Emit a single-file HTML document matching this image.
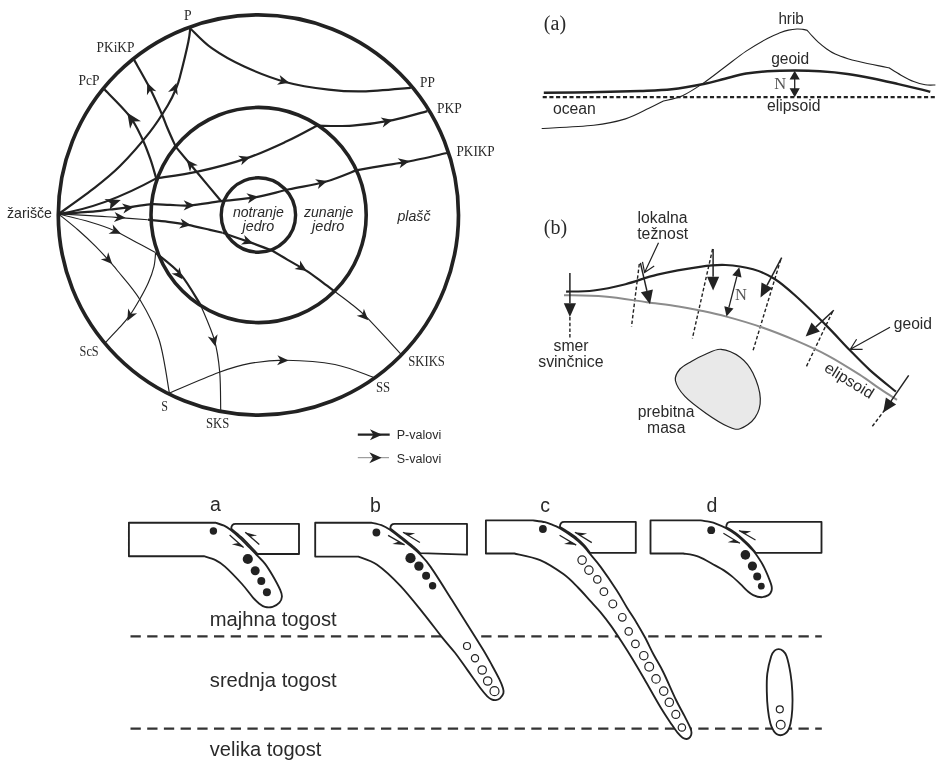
<!DOCTYPE html>
<html><head><meta charset="utf-8"><title>Diagram</title>
<style>html,body{margin:0;padding:0;background:#fff;}svg{display:block;filter:grayscale(1);}</style></head>
<body><svg width="942" height="784" viewBox="0 0 942 784">
<rect width="942" height="784" fill="#fff"/>
<circle cx="258.4" cy="215.0" r="200.1" fill="none" stroke="#222" stroke-width="3.7"/>
<circle cx="258.59999999999997" cy="215.0" r="107.6" fill="none" stroke="#222" stroke-width="3.6"/>
<circle cx="258.4" cy="215.0" r="37.2" fill="none" stroke="#222" stroke-width="3.4"/>
<path d="M58.60,214.00 C64.25,209.90 82.27,197.40 92.50,189.40 C102.73,181.40 110.45,175.55 120.00,166.00 C129.55,156.45 141.80,142.27 149.80,132.10 C157.80,121.93 163.58,112.35 168.00,105.00 C172.42,97.65 174.27,92.87 176.30,88.00 C178.33,83.13 178.20,83.47 180.20,75.80 C182.20,68.13 186.62,49.97 188.30,42.00 C189.98,34.03 189.97,30.33 190.30,28.00" fill="none" stroke="#222" stroke-width="2.2" />
<path d="M58.6,214.0 Q104.1,207.1 156.2,178.4" fill="none" stroke="#222" stroke-width="2.2" />
<path d="M156.20,178.40 C155.23,175.20 152.78,165.93 150.40,159.20 C148.02,152.47 145.43,145.25 141.90,138.00 C138.37,130.75 135.47,123.82 129.20,115.70 C122.93,107.58 108.45,93.70 104.30,89.30" fill="none" stroke="#222" stroke-width="2.2" />
<path d="M156.20,178.40 C163.27,177.23 183.67,174.70 198.60,171.40 C213.53,168.10 231.20,163.57 245.80,158.60 C260.40,153.63 274.35,147.08 286.20,141.60 C298.05,136.12 311.78,128.35 316.90,125.70" fill="none" stroke="#222" stroke-width="2.2" />
<path d="M316.90,125.70 C322.83,125.68 339.85,126.53 352.50,125.60 C365.15,124.67 380.32,122.52 392.80,120.10 C405.28,117.68 421.63,112.60 427.40,111.10" fill="none" stroke="#222" stroke-width="2.2" />
<path d="M58.60,214.00 C64.67,213.57 86.50,212.15 95.00,211.40 C103.50,210.65 104.30,210.13 109.60,209.50 C114.90,208.87 120.10,208.47 126.80,207.60 C133.50,206.73 142.60,204.75 149.80,204.30 C157.00,203.85 163.28,204.72 170.00,204.90 C176.72,205.08 181.57,206.02 190.10,205.40 C198.63,204.78 210.17,202.58 221.20,201.20 C232.23,199.82 244.97,199.08 256.30,197.10 C267.63,195.12 277.70,191.85 289.20,189.30 C300.70,186.75 314.15,184.95 325.30,181.80 C336.45,178.65 350.97,172.30 356.10,170.40" fill="none" stroke="#222" stroke-width="2.2" />
<path d="M356.10,170.40 C360.42,169.63 373.23,167.28 382.00,165.80 C390.77,164.32 397.88,163.63 408.70,161.50 C419.52,159.37 440.53,154.42 446.90,153.00" fill="none" stroke="#222" stroke-width="2.2" />
<path d="M221.20,201.20 C217.33,196.58 205.57,182.55 198.00,173.50 C190.43,164.45 179.50,151.33 175.80,146.90" fill="none" stroke="#222" stroke-width="2.2" />
<path d="M175.80,146.90 C174.43,143.83 169.93,133.98 167.60,128.50 C165.27,123.02 164.67,120.55 161.80,114.00 C158.93,107.45 155.02,98.22 150.40,89.20 C145.78,80.18 136.82,64.78 134.10,59.90" fill="none" stroke="#222" stroke-width="2.2" />
<path d="M190.60,28.70 C194.13,31.95 202.95,41.93 211.80,48.20 C220.65,54.47 231.30,60.63 243.70,66.30 C256.10,71.97 272.05,78.32 286.20,82.20 C300.35,86.08 315.78,88.07 328.60,89.60 C341.42,91.13 349.40,91.70 363.10,91.40 C376.80,91.10 402.85,88.40 410.80,87.80" fill="none" stroke="#222" stroke-width="2.2" />
<path d="M148.00,219.70 C151.33,220.05 161.33,220.93 168.00,221.80 C174.67,222.67 181.00,223.55 188.00,224.90 C195.00,226.25 204.23,228.58 210.00,229.90 C215.77,231.22 220.50,232.32 222.60,232.80" fill="none" stroke="#222" stroke-width="2.2" />
<path d="M222.60,232.80 C225.45,233.80 234.62,237.03 239.70,238.80 C244.78,240.57 247.65,241.42 253.10,243.40 C258.55,245.38 269.18,249.48 272.40,250.70" fill="none" stroke="#222" stroke-width="2.2" />
<path d="M272.40,250.70 C274.88,252.18 281.60,256.23 287.30,259.60 C293.00,262.97 300.67,267.07 306.60,270.90 C312.53,274.73 318.20,279.17 322.90,282.60 C327.60,286.03 332.82,290.02 334.80,291.50" fill="none" stroke="#222" stroke-width="2.2" />
<path d="M155.50,252.70 C159.68,256.32 173.08,265.68 180.60,274.40 C188.12,283.12 197.27,299.90 200.60,305.00" fill="none" stroke="#222" stroke-width="2.2" />
<path d="M58.60,214.00 C63.83,214.27 80.48,215.03 90.00,215.60 C99.52,216.17 106.07,216.72 115.70,217.40 C125.33,218.08 142.45,219.32 147.80,219.70" fill="none" stroke="#222" stroke-width="1.15" />
<path d="M334.80,291.50 C337.28,293.37 344.42,298.42 349.70,302.70 C354.98,306.98 358.00,308.67 366.50,317.20 C375.00,325.73 395.00,347.78 400.70,353.90" fill="none" stroke="#222" stroke-width="1.15" />
<path d="M58.60,214.00 C63.83,215.33 80.87,219.30 90.00,222.00 C99.13,224.70 105.62,226.78 113.40,230.20 C121.18,233.62 129.70,238.78 136.70,242.50 C143.70,246.22 152.28,250.83 155.40,252.50" fill="none" stroke="#222" stroke-width="1.15" />
<path d="M155.60,252.90 C155.32,255.22 155.12,261.82 153.90,266.80 C152.68,271.78 150.68,277.35 148.30,282.80 C145.92,288.25 142.78,293.93 139.60,299.50 C136.42,305.07 132.65,311.42 129.20,316.20 C125.75,320.98 122.82,323.87 118.90,328.20 C114.98,332.53 107.90,339.87 105.70,342.20" fill="none" stroke="#222" stroke-width="1.15" />
<path d="M200.60,305.00 C202.90,310.83 211.22,328.85 214.40,340.00 C217.58,351.15 218.65,360.23 219.70,371.90 C220.75,383.57 220.53,403.65 220.70,410.00" fill="none" stroke="#222" stroke-width="1.15" />
<path d="M58.60,214.00 C61.90,216.70 72.18,224.77 78.40,230.20 C84.62,235.63 90.47,241.15 95.90,246.60 C101.33,252.05 107.50,259.00 111.00,262.90 C114.50,266.80 112.07,263.87 116.90,270.00 C121.73,276.13 132.95,288.03 140.00,299.70 C147.05,311.37 154.30,324.43 159.20,340.00 C164.10,355.57 167.70,384.25 169.40,393.10" fill="none" stroke="#222" stroke-width="1.15" />
<path d="M169.40,393.10 C177.60,389.67 205.17,377.45 218.60,372.50 C232.03,367.55 238.75,365.45 250.00,363.40 C261.25,361.35 271.95,360.02 286.10,360.20 C300.25,360.38 320.40,361.67 334.90,364.50 C349.40,367.33 366.73,375.08 373.10,377.20" fill="none" stroke="#222" stroke-width="1.15" />
<path d="M0,0 L-10.5,-4.7 L-7.5,0 L-10.5,4.7Z" fill="#222" transform="translate(176.40,82.90) rotate(-72.0) scale(1.08)"/>
<path d="M120.8,200.1 L104.4,199.1 L110.6,203.2 L109.8,209.5Z" fill="#222"/>
<path d="M0,0 L-10.5,-4.7 L-7.5,0 L-10.5,4.7Z" fill="#222" transform="translate(127.30,112.80) rotate(-124.0) scale(1.40)"/>
<path d="M0,0 L-10.5,-4.7 L-7.5,0 L-10.5,4.7Z" fill="#222" transform="translate(250.50,157.00) rotate(-18.0) scale(1.08)"/>
<path d="M0,0 L-10.5,-4.7 L-7.5,0 L-10.5,4.7Z" fill="#222" transform="translate(392.80,120.10) rotate(-12.0) scale(1.08)"/>
<path d="M0,0 L-10.5,-4.7 L-7.5,0 L-10.5,4.7Z" fill="#222" transform="translate(133.90,207.00) rotate(-8.0) scale(1.08)"/>
<path d="M0,0 L-10.5,-4.7 L-7.5,0 L-10.5,4.7Z" fill="#222" transform="translate(195.00,205.30) rotate(0.0) scale(1.08)"/>
<path d="M0,0 L-10.5,-4.7 L-7.5,0 L-10.5,4.7Z" fill="#222" transform="translate(258.40,196.60) rotate(-9.0) scale(1.08)"/>
<path d="M0,0 L-10.5,-4.7 L-7.5,0 L-10.5,4.7Z" fill="#222" transform="translate(327.40,181.00) rotate(-16.0) scale(1.08)"/>
<path d="M0,0 L-10.5,-4.7 L-7.5,0 L-10.5,4.7Z" fill="#222" transform="translate(409.80,161.00) rotate(-11.0) scale(1.08)"/>
<path d="M0,0 L-10.5,-4.7 L-7.5,0 L-10.5,4.7Z" fill="#222" transform="translate(186.60,159.80) rotate(-130.0) scale(1.08)"/>
<path d="M0,0 L-10.5,-4.7 L-7.5,0 L-10.5,4.7Z" fill="#222" transform="translate(147.20,82.80) rotate(-113.0) scale(1.08)"/>
<path d="M0,0 L-10.5,-4.7 L-7.5,0 L-10.5,4.7Z" fill="#222" transform="translate(289.30,82.80) rotate(15.0) scale(1.08)"/>
<path d="M0,0 L-10.5,-4.7 L-7.5,0 L-10.5,4.7Z" fill="#222" transform="translate(191.10,225.30) rotate(9.0) scale(1.08)"/>
<path d="M0,0 L-10.5,-4.7 L-7.5,0 L-10.5,4.7Z" fill="#222" transform="translate(253.30,243.40) rotate(19.0) scale(1.08)"/>
<path d="M0,0 L-10.5,-4.7 L-7.5,0 L-10.5,4.7Z" fill="#222" transform="translate(306.80,270.90) rotate(33.0) scale(1.08)"/>
<path d="M0,0 L-10.5,-4.7 L-7.5,0 L-10.5,4.7Z" fill="#222" transform="translate(182.50,279.30) rotate(52.0) scale(1.08)"/>
<path d="M0,0 L-10.5,-4.7 L-7.5,0 L-10.5,4.7Z" fill="#222" transform="translate(125.60,217.80) rotate(4.0) scale(1.08)"/>
<path d="M0,0 L-10.5,-4.7 L-7.5,0 L-10.5,4.7Z" fill="#222" transform="translate(368.30,320.30) rotate(45.0) scale(1.08)"/>
<path d="M0,0 L-10.5,-4.7 L-7.5,0 L-10.5,4.7Z" fill="#222" transform="translate(121.00,233.70) rotate(24.0) scale(1.08)"/>
<path d="M0,0 L-10.5,-4.7 L-7.5,0 L-10.5,4.7Z" fill="#222" transform="translate(127.30,321.00) rotate(118.0) scale(1.08)"/>
<path d="M0,0 L-10.5,-4.7 L-7.5,0 L-10.5,4.7Z" fill="#222" transform="translate(215.40,346.40) rotate(76.0) scale(1.08)"/>
<path d="M0,0 L-10.5,-4.7 L-7.5,0 L-10.5,4.7Z" fill="#222" transform="translate(112.20,264.10) rotate(47.0) scale(1.08)"/>
<path d="M0,0 L-10.5,-4.7 L-7.5,0 L-10.5,4.7Z" fill="#222" transform="translate(288.60,360.60) rotate(2.0) scale(1.08)"/>
<text x="184.0" y="19.6" font-family="'Liberation Serif', serif" font-size="13.6"  text-anchor="start" fill="#2a2a2a" textLength="7.6" lengthAdjust="spacingAndGlyphs" >P</text>
<text x="96.5" y="51.5" font-family="'Liberation Serif', serif" font-size="13.6"  text-anchor="start" fill="#2a2a2a" textLength="38.0" lengthAdjust="spacingAndGlyphs" >PKiKP</text>
<text x="78.5" y="85.0" font-family="'Liberation Serif', serif" font-size="13.6"  text-anchor="start" fill="#2a2a2a" textLength="21.0" lengthAdjust="spacingAndGlyphs" >PcP</text>
<text x="420.0" y="87.2" font-family="'Liberation Serif', serif" font-size="13.6"  text-anchor="start" fill="#2a2a2a" textLength="14.8" lengthAdjust="spacingAndGlyphs" >PP</text>
<text x="437.0" y="112.6" font-family="'Liberation Serif', serif" font-size="13.6"  text-anchor="start" fill="#2a2a2a" textLength="24.8" lengthAdjust="spacingAndGlyphs" >PKP</text>
<text x="456.5" y="155.7" font-family="'Liberation Serif', serif" font-size="13.6"  text-anchor="start" fill="#2a2a2a" textLength="38.2" lengthAdjust="spacingAndGlyphs" >PKIKP</text>
<text x="79.6" y="356.0" font-family="'Liberation Serif', serif" font-size="13.6"  text-anchor="start" fill="#2a2a2a" textLength="19.1" lengthAdjust="spacingAndGlyphs" >ScS</text>
<text x="161.3" y="411.2" font-family="'Liberation Serif', serif" font-size="13.6"  text-anchor="start" fill="#2a2a2a" textLength="6.7" lengthAdjust="spacingAndGlyphs" >S</text>
<text x="205.9" y="428.0" font-family="'Liberation Serif', serif" font-size="13.6"  text-anchor="start" fill="#2a2a2a" textLength="23.3" lengthAdjust="spacingAndGlyphs" >SKS</text>
<text x="408.2" y="365.5" font-family="'Liberation Serif', serif" font-size="13.6"  text-anchor="start" fill="#2a2a2a" textLength="36.7" lengthAdjust="spacingAndGlyphs" >SKIKS</text>
<text x="375.9" y="392.0" font-family="'Liberation Serif', serif" font-size="13.6"  text-anchor="start" fill="#2a2a2a" textLength="14.2" lengthAdjust="spacingAndGlyphs" >SS</text>
<text x="7.0" y="217.6" font-family="'Liberation Sans', sans-serif" font-size="14.2"  text-anchor="start" fill="#2a2a2a" textLength="45.0" lengthAdjust="spacingAndGlyphs" >žarišče</text>
<text x="232.9" y="216.9" font-family="'Liberation Sans', sans-serif" font-size="14.2" font-style="italic" text-anchor="start" fill="#2a2a2a" textLength="51.0" lengthAdjust="spacingAndGlyphs" >notranje</text>
<text x="242.5" y="230.7" font-family="'Liberation Sans', sans-serif" font-size="14.2" font-style="italic" text-anchor="start" fill="#2a2a2a" textLength="31.8" lengthAdjust="spacingAndGlyphs" >jedro</text>
<text x="304.0" y="216.9" font-family="'Liberation Sans', sans-serif" font-size="14.2" font-style="italic" text-anchor="start" fill="#2a2a2a" textLength="49.3" lengthAdjust="spacingAndGlyphs" >zunanje</text>
<text x="312.1" y="230.7" font-family="'Liberation Sans', sans-serif" font-size="14.2" font-style="italic" text-anchor="start" fill="#2a2a2a" textLength="32.3" lengthAdjust="spacingAndGlyphs" >jedro</text>
<text x="397.5" y="221.3" font-family="'Liberation Sans', sans-serif" font-size="14.2" font-style="italic" text-anchor="start" fill="#2a2a2a" textLength="33.0" lengthAdjust="spacingAndGlyphs" >plašč</text>
<line x1="357.8" y1="434.7" x2="389.7" y2="434.7" stroke="#222" stroke-width="2.3"/>
<path d="M0,0 L-10.5,-4.7 L-7.5,0 L-10.5,4.7Z" fill="#222" transform="translate(382.20,434.70) rotate(0.0) scale(1.17)"/>
<line x1="357.8" y1="457.7" x2="389" y2="457.7" stroke="#888" stroke-width="1"/>
<path d="M0,0 L-10.5,-4.7 L-7.5,0 L-10.5,4.7Z" fill="#222" transform="translate(381.60,457.70) rotate(0.0) scale(1.17)"/>
<text x="396.7" y="439.2" font-family="'Liberation Sans', sans-serif" font-size="12.5"  text-anchor="start" fill="#2a2a2a" textLength="44.6" lengthAdjust="spacingAndGlyphs" >P-valovi</text>
<text x="396.7" y="462.8" font-family="'Liberation Sans', sans-serif" font-size="12.5"  text-anchor="start" fill="#2a2a2a" textLength="44.6" lengthAdjust="spacingAndGlyphs" >S-valovi</text>
<text x="543.8" y="29.7" font-family="'Liberation Serif', serif" font-size="20"  text-anchor="start" fill="#2a2a2a" textLength="22.3" lengthAdjust="spacingAndGlyphs" >(a)</text>
<path d="M541.70,128.50 C550.37,127.97 579.73,126.90 593.70,125.30 C607.67,123.70 616.30,121.73 625.50,118.90 C634.70,116.07 642.58,111.28 648.90,108.30 C655.22,105.32 660.98,102.22 663.40,101.00 C666.58,100.12 675.78,98.72 682.50,95.70 C689.22,92.68 696.63,87.68 703.70,82.90 C710.77,78.12 717.82,72.30 724.90,67.00 C731.98,61.70 739.12,55.87 746.20,51.10 C753.28,46.33 761.77,41.45 767.40,38.40 C773.03,35.35 776.48,34.18 780.00,32.80 C783.52,31.42 785.67,30.73 788.50,30.10 C791.33,29.47 794.60,29.12 797.00,29.00 C799.40,28.88 801.20,29.18 802.90,29.40 C804.60,29.62 806.48,30.15 807.20,30.30 C808.05,31.28 810.47,34.22 812.30,36.20 C814.13,38.18 815.80,40.07 818.20,42.20 C820.60,44.33 823.87,47.02 826.70,49.00 C829.53,50.98 831.67,52.48 835.20,54.10 C838.73,55.72 843.80,57.43 847.90,58.70 C852.00,59.97 854.57,60.50 859.80,61.70 C865.03,62.90 874.45,64.88 879.30,65.90 C884.15,66.92 887.30,67.48 888.90,67.80 C890.92,69.03 896.87,72.90 901.00,75.20 C905.13,77.50 909.67,80.00 913.70,81.60 C917.73,83.20 921.58,84.23 925.20,84.80 C928.82,85.37 933.70,84.97 935.40,85.00" fill="none" stroke="#222" stroke-width="1.1" stroke-linejoin="round"/>
<path d="M543.80,92.80 C551.50,92.70 573.97,92.50 590.00,92.20 C606.03,91.90 626.37,91.48 640.00,91.00 C653.63,90.52 661.18,90.47 671.80,89.30 C682.42,88.13 694.85,85.77 703.70,84.00 C712.55,82.23 717.82,80.43 724.90,78.70 C731.98,76.97 739.12,74.83 746.20,73.60 C753.28,72.37 759.27,71.80 767.40,71.30 C775.53,70.80 786.23,70.60 795.00,70.60 C803.77,70.60 811.25,70.75 820.00,71.30 C828.75,71.85 838.67,72.72 847.50,73.90 C856.33,75.08 864.52,76.70 873.00,78.40 C881.48,80.10 890.98,82.40 898.40,84.10 C905.82,85.80 912.18,87.32 917.50,88.60 C922.82,89.88 928.17,91.27 930.30,91.80" fill="none" stroke="#222" stroke-width="2.5" />
<line x1="542.7" y1="97.2" x2="934.8" y2="97.2" stroke="#222" stroke-width="2.2" stroke-dasharray="4.1 2.59"/>
<line x1="794.7" y1="76" x2="794.7" y2="92" stroke="#222" stroke-width="1.3"/>
<path d="M794.7,70.7 L789.6,79.6 L799.8,79.6Z M794.7,97.2 L789.6,88.3 L799.8,88.3Z" fill="#222"/>
<text x="774.2" y="89.3" font-family="'Liberation Serif', serif" font-size="16.3"  text-anchor="start" fill="#555" textLength="11.9" lengthAdjust="spacingAndGlyphs" >N</text>
<text x="552.9" y="113.6" font-family="'Liberation Sans', sans-serif" font-size="15.6"  text-anchor="start" fill="#2a2a2a" textLength="42.9" lengthAdjust="spacingAndGlyphs" >ocean</text>
<text x="778.4" y="24.4" font-family="'Liberation Sans', sans-serif" font-size="15.6"  text-anchor="start" fill="#2a2a2a" textLength="25.4" lengthAdjust="spacingAndGlyphs" >hrib</text>
<text x="771.2" y="63.6" font-family="'Liberation Sans', sans-serif" font-size="15.6"  text-anchor="start" fill="#2a2a2a" textLength="38.0" lengthAdjust="spacingAndGlyphs" >geoid</text>
<text x="767.1" y="110.7" font-family="'Liberation Sans', sans-serif" font-size="15.6"  text-anchor="start" fill="#2a2a2a" textLength="53.4" lengthAdjust="spacingAndGlyphs" >elipsoid</text>
<text x="543.8" y="234.3" font-family="'Liberation Serif', serif" font-size="20"  text-anchor="start" fill="#2a2a2a" textLength="23.4" lengthAdjust="spacingAndGlyphs" >(b)</text>
<path d="M721.00,349.30 C715.15,348.85 709.95,352.48 705.00,354.50 C700.05,356.52 695.47,358.98 691.30,361.40 C687.13,363.82 682.65,365.82 680.00,369.00 C677.35,372.18 674.58,375.93 675.40,380.50 C676.22,385.07 679.77,390.92 684.90,396.40 C690.03,401.88 699.12,408.43 706.20,413.40 C713.28,418.37 721.75,423.65 727.40,426.20 C733.05,428.75 735.50,430.12 740.10,428.70 C744.70,427.28 751.63,422.72 755.00,417.70 C758.37,412.68 760.65,406.03 760.30,398.60 C759.95,391.17 756.27,380.00 752.90,373.10 C749.53,366.20 745.42,361.17 740.10,357.20 C734.78,353.23 726.85,349.75 721.00,349.30Z" fill="#e9e9e9" stroke="#222" stroke-width="1.2" />
<line x1="569.9" y1="317.0" x2="569.9" y2="339.4" stroke="#222" stroke-width="1.4" stroke-dasharray="3.5 2.2"/>
<line x1="639.3" y1="264.0" x2="631.5" y2="326.6" stroke="#222" stroke-width="1.4" stroke-dasharray="3.5 2.2"/>
<line x1="712.6" y1="249.0" x2="692.4" y2="338.3" stroke="#222" stroke-width="1.4" stroke-dasharray="3.5 2.2"/>
<line x1="780.7" y1="259.7" x2="752.6" y2="352.0" stroke="#222" stroke-width="1.4" stroke-dasharray="3.5 2.2"/>
<line x1="832.5" y1="311.7" x2="805.7" y2="368.0" stroke="#222" stroke-width="1.4" stroke-dasharray="3.5 2.2"/>
<line x1="891.7" y1="400.8" x2="871.5" y2="427.4" stroke="#222" stroke-width="1.4" stroke-dasharray="3.5 2.2"/>
<path d="M564.00,295.20 C570.72,295.42 590.50,295.33 604.30,296.50 C618.10,297.67 634.42,300.53 646.80,302.20 C659.18,303.87 669.73,305.12 678.60,306.50 C687.47,307.88 692.02,308.82 700.00,310.50 C707.98,312.18 716.23,313.82 726.50,316.60 C736.77,319.38 750.10,323.23 761.60,327.20 C773.10,331.17 784.53,335.72 795.50,340.40 C806.47,345.08 816.78,349.63 827.40,355.30 C838.02,360.97 850.35,368.75 859.20,374.40 C868.05,380.05 874.20,384.97 880.50,389.20 C886.80,393.43 894.25,398.03 897.00,399.80" fill="none" stroke="#8c8c8c" stroke-width="2.0" />
<path d="M566.10,291.60 C570.70,291.42 583.80,291.73 593.70,290.50 C603.60,289.27 614.88,286.85 625.50,284.20 C636.12,281.55 645.00,277.50 657.40,274.60 C669.80,271.70 688.55,268.40 699.90,266.80 C711.25,265.20 716.63,264.58 725.50,265.00 C734.37,265.42 744.97,267.00 753.10,269.30 C761.23,271.60 767.23,274.38 774.30,278.80 C781.37,283.22 786.65,287.83 795.50,295.80 C804.35,303.77 818.55,317.75 827.40,326.60 C836.25,335.45 841.52,341.65 848.60,348.90 C855.68,356.15 862.02,362.97 869.90,370.10 C877.78,377.23 891.57,388.10 895.90,391.70" fill="none" stroke="#222" stroke-width="2.2" />
<line x1="569.9" y1="273.1" x2="569.9" y2="303.3" stroke="#222" stroke-width="1.5"/>
<path d="M569.9,317.1 L563.8,303.3 L576.0,303.3Z" fill="#222"/>
<line x1="640.4" y1="262.9" x2="646.9" y2="290.9" stroke="#222" stroke-width="1.5"/>
<path d="M650.0,304.3 L640.9,292.2 L652.9,289.5Z" fill="#222"/>
<line x1="713.1" y1="249.1" x2="713.1" y2="276.7" stroke="#222" stroke-width="1.5"/>
<path d="M713.1,290.5 L707.0,276.7 L719.2,276.7Z" fill="#222"/>
<line x1="781.7" y1="257.6" x2="767.0" y2="285.3" stroke="#222" stroke-width="1.5"/>
<path d="M760.5,297.5 L761.5,282.4 L772.4,288.2Z" fill="#222"/>
<line x1="833.8" y1="310.3" x2="815.7" y2="327.1" stroke="#222" stroke-width="1.5"/>
<path d="M805.6,336.5 L811.5,322.6 L819.9,331.6Z" fill="#222"/>
<line x1="908.7" y1="375.4" x2="891.0" y2="401.1" stroke="#222" stroke-width="1.5"/>
<path d="M883.2,412.5 L885.9,397.6 L896.1,404.6Z" fill="#222"/>
<line x1="736.9" y1="276.4" x2="728.9" y2="307.4" stroke="#222" stroke-width="1.3"/>
<path d="M739.3,267.2 L732.3,275.2 L741.5,277.6Z" fill="#222"/>
<path d="M726.5,316.6 L724.3,306.2 L733.5,308.6Z" fill="#222"/>
<text x="735.0" y="299.6" font-family="'Liberation Serif', serif" font-size="16.3"  text-anchor="start" fill="#555" textLength="11.9" lengthAdjust="spacingAndGlyphs" >N</text>
<path d="M658.5,242.8 L644.6,272.5 M642.5,261.9 L644.6,272.5 L654.2,266.1" fill="none" stroke="#222" stroke-width="1.2"/>
<path d="M890.0,327.2 L850.3,349.3 M856.6,339.3 L850.3,349.3 L862.6,349.3" fill="none" stroke="#222" stroke-width="1.2"/>
<text x="637.6" y="223.2" font-family="'Liberation Sans', sans-serif" font-size="15.6"  text-anchor="start" fill="#2a2a2a" textLength="49.9" lengthAdjust="spacingAndGlyphs" >lokalna</text>
<text x="637.2" y="239.2" font-family="'Liberation Sans', sans-serif" font-size="15.6"  text-anchor="start" fill="#2a2a2a" textLength="51.0" lengthAdjust="spacingAndGlyphs" >težnost</text>
<text x="553.6" y="351.0" font-family="'Liberation Sans', sans-serif" font-size="15.8"  text-anchor="start" fill="#2a2a2a" textLength="35.0" lengthAdjust="spacingAndGlyphs" >smer</text>
<text x="538.2" y="366.5" font-family="'Liberation Sans', sans-serif" font-size="15.8"  text-anchor="start" fill="#2a2a2a" textLength="65.4" lengthAdjust="spacingAndGlyphs" >svinčnice</text>
<text x="637.8" y="416.6" font-family="'Liberation Sans', sans-serif" font-size="15.6"  text-anchor="start" fill="#2a2a2a" textLength="56.7" lengthAdjust="spacingAndGlyphs" >prebitna</text>
<text x="647.1" y="432.5" font-family="'Liberation Sans', sans-serif" font-size="15.6"  text-anchor="start" fill="#2a2a2a" textLength="38.3" lengthAdjust="spacingAndGlyphs" >masa</text>
<text x="893.8" y="328.7" font-family="'Liberation Sans', sans-serif" font-size="15.6"  text-anchor="start" fill="#2a2a2a" textLength="38.2" lengthAdjust="spacingAndGlyphs" >geoid</text>
<text font-family="'Liberation Sans', sans-serif" font-size="15.6" fill="#2a2a2a" textLength="54.7" lengthAdjust="spacingAndGlyphs" transform="translate(823.2,370.6) rotate(31.5)">elipsoid</text>
<line x1="130.5" y1="636.3" x2="821.8" y2="636.3" stroke="#333" stroke-width="2.2" stroke-dasharray="10.3 6.4"/>
<line x1="130.5" y1="728.55" x2="821.8" y2="728.55" stroke="#333" stroke-width="2.2" stroke-dasharray="10.3 6.4"/>
<path d="M128.9,556.2 L128.9,522.7 L215.5,522.7 C216.93,523.20 221.60,524.52 224.10,525.70 C226.60,526.88 227.85,527.73 230.50,529.80 C233.15,531.87 236.82,535.12 240.00,538.10 C243.18,541.08 246.67,544.73 249.60,547.70 C252.53,550.67 255.05,553.25 257.60,555.90 C260.15,558.55 262.40,560.33 264.90,563.60 C267.40,566.87 270.05,571.12 272.60,575.50 C275.15,579.88 278.65,586.37 280.20,589.90 C281.75,593.43 282.03,594.57 281.90,596.70 C281.77,598.83 280.95,601.00 279.40,602.70 C277.85,604.40 275.02,606.20 272.60,606.90 C270.18,607.60 267.17,607.47 264.90,606.90 C262.63,606.33 260.98,605.05 259.00,603.50 C257.02,601.95 255.83,600.85 253.00,597.60 C250.17,594.35 246.67,589.17 242.00,584.00 C237.33,578.83 229.42,570.58 225.00,566.60 C220.58,562.62 219.02,561.83 215.50,560.10 C211.98,558.37 205.83,556.85 203.90,556.20 Z" fill="#fff" stroke="#222" stroke-width="1.85" stroke-linejoin="round"/>
<path d="M299.0,554.0 L257.4,554.0 C256.27,552.77 253.33,549.43 250.60,546.60 C247.87,543.77 244.23,539.97 241.00,537.00 C237.77,534.03 232.83,530.17 231.20,528.80 Q231.4,523.9 235.5,523.9 L299.0,523.9 Z" fill="none" stroke="#222" stroke-width="1.85" stroke-linejoin="round"/>
<circle cx="213.4" cy="531.0" r="3.7" fill="#222"/>
<circle cx="247.8" cy="559.0" r="5.1" fill="#222"/>
<circle cx="255.2" cy="570.7" r="4.5" fill="#222"/>
<circle cx="261.3" cy="581.1" r="4.0" fill="#222"/>
<circle cx="266.9" cy="592.3" r="4.0" fill="#222"/>
<line x1="229.6" y1="535.1" x2="243.6" y2="547.6" stroke="#222" stroke-width="1.3"/>
<path d="M243.6,547.6 L231.8,544.3 L238.5,543.1Z" fill="#222"/>
<line x1="259.3" y1="544.6" x2="245.2" y2="532.2" stroke="#222" stroke-width="1.3"/>
<path d="M245.2,532.2 L257.0,535.4 L250.3,536.7Z" fill="#222"/>
<path d="M315.2,556.6 L315.2,522.7 L371.2,522.7 C372.90,523.12 378.33,524.05 381.40,525.20 C384.47,526.35 385.88,527.05 389.60,529.60 C393.32,532.15 399.77,537.42 403.70,540.50 C407.63,543.58 410.55,545.87 413.20,548.10 C415.85,550.33 416.67,550.73 419.60,553.90 C422.53,557.07 425.43,559.45 430.80,567.10 C436.17,574.75 444.40,588.13 451.80,599.80 C459.20,611.47 469.85,628.57 475.20,637.10 C480.55,645.63 481.18,646.45 483.90,651.00 C486.62,655.55 488.95,659.75 491.50,664.40 C494.05,669.05 497.28,674.93 499.20,678.90 C501.12,682.87 502.30,685.80 503.00,688.20 C503.70,690.60 503.90,691.60 503.40,693.30 C502.90,695.00 501.27,697.27 500.00,698.40 C498.73,699.53 497.22,699.95 495.80,700.10 C494.38,700.25 492.92,699.93 491.50,699.30 C490.08,698.67 489.13,698.15 487.30,696.30 C485.47,694.45 483.77,692.52 480.50,688.20 C477.23,683.88 471.95,676.30 467.70,670.40 C463.45,664.50 459.23,658.27 455.00,652.80 C450.77,647.33 447.50,644.10 442.30,637.60 C437.10,631.10 430.78,622.43 423.80,613.80 C416.82,605.17 408.18,593.98 400.40,585.80 C392.62,577.62 384.10,569.57 377.10,564.70 C370.10,559.83 361.52,557.95 358.40,556.60 Z" fill="#fff" stroke="#222" stroke-width="1.85" stroke-linejoin="round"/>
<path d="M467.0,554.7 L420.4,553.2 C419.33,552.18 416.65,549.38 414.00,547.10 C411.35,544.82 408.45,542.60 404.50,539.50 C400.55,536.40 392.67,530.33 390.30,528.50 Q390.5,523.9 394.6,523.9 L467.0,523.9 Z" fill="none" stroke="#222" stroke-width="1.85" stroke-linejoin="round"/>
<circle cx="376.4" cy="532.5" r="3.9" fill="#222"/>
<circle cx="410.5" cy="558.2" r="5.1" fill="#222"/>
<circle cx="418.9" cy="566.1" r="4.7" fill="#222"/>
<circle cx="426.1" cy="575.7" r="4.0" fill="#222"/>
<circle cx="432.6" cy="585.8" r="3.7" fill="#222"/>
<circle cx="467.0" cy="646.0" r="3.5" fill="#fff" stroke="#222" stroke-width="1.2"/>
<circle cx="475.0" cy="658.2" r="3.6" fill="#fff" stroke="#222" stroke-width="1.2"/>
<circle cx="482.2" cy="670.0" r="4.2" fill="#fff" stroke="#222" stroke-width="1.2"/>
<circle cx="487.7" cy="681.0" r="4.2" fill="#fff" stroke="#222" stroke-width="1.2"/>
<circle cx="494.5" cy="691.2" r="4.5" fill="#fff" stroke="#222" stroke-width="1.2"/>
<line x1="388.1" y1="535.4" x2="404.6" y2="544.9" stroke="#222" stroke-width="1.3"/>
<path d="M404.6,544.9 L392.4,544.1 L398.7,541.5Z" fill="#222"/>
<line x1="419.9" y1="542.5" x2="403.0" y2="532.2" stroke="#222" stroke-width="1.3"/>
<path d="M403.0,532.2 L415.2,533.3 L408.8,535.7Z" fill="#222"/>
<path d="M485.9,553.5 L485.9,520.4 L533.1,520.4 C535.08,520.70 541.95,521.53 545.00,522.20 C548.05,522.87 549.02,523.45 551.40,524.40 C553.78,525.35 555.58,525.72 559.30,527.90 C563.02,530.08 569.72,534.52 573.70,537.50 C577.68,540.48 580.55,543.15 583.20,545.80 C585.85,548.45 586.67,549.85 589.60,553.40 C592.53,556.95 596.32,561.00 600.80,567.10 C605.28,573.20 612.10,583.18 616.50,590.00 C620.90,596.82 623.83,602.52 627.20,608.00 C630.57,613.48 633.70,617.93 636.70,622.90 C639.70,627.87 642.37,632.48 645.20,637.80 C648.03,643.12 650.70,649.10 653.70,654.80 C656.70,660.50 659.52,664.55 663.20,672.00 C666.88,679.45 672.28,692.22 675.80,699.50 C679.32,706.78 681.90,711.02 684.30,715.70 C686.70,720.38 689.00,724.77 690.20,727.60 C691.40,730.43 691.50,731.15 691.50,732.70 C691.50,734.25 690.98,735.85 690.20,736.90 C689.42,737.95 688.07,738.87 686.80,739.00 C685.53,739.13 684.15,738.75 682.60,737.70 C681.05,736.65 679.35,734.95 677.50,732.70 C675.65,730.45 674.33,728.45 671.50,724.20 C668.67,719.95 665.03,714.73 660.50,707.20 C655.97,699.67 648.97,687.03 644.30,679.00 C639.63,670.97 636.25,665.17 632.50,659.00 C628.75,652.83 625.35,647.48 621.80,642.00 C618.25,636.52 614.73,631.05 611.20,626.10 C607.67,621.15 604.13,616.55 600.60,612.30 C597.07,608.05 593.77,604.73 590.00,600.60 C586.23,596.47 582.43,591.92 578.00,587.50 C573.57,583.08 569.72,578.67 563.40,574.10 C557.08,569.53 548.27,563.53 540.10,560.10 C531.93,556.67 518.68,554.60 514.40,553.50 Z" fill="#fff" stroke="#222" stroke-width="1.85" stroke-linejoin="round"/>
<path d="M635.8,552.8 L590.0,552.8 C589.05,551.57 586.42,547.77 584.30,545.40 C582.18,543.03 580.02,540.83 577.30,538.60 C574.58,536.37 570.90,533.93 568.00,532.00 C565.10,530.07 561.25,527.83 559.90,527.00 Q560.1,521.9 564.2,521.9 L635.8,521.9 Z" fill="none" stroke="#222" stroke-width="1.85" stroke-linejoin="round"/>
<circle cx="542.9" cy="529.0" r="3.9" fill="#222"/>
<circle cx="582.1" cy="560.1" r="4.2" fill="#fff" stroke="#222" stroke-width="1.2"/>
<circle cx="588.9" cy="570.1" r="4.2" fill="#fff" stroke="#222" stroke-width="1.2"/>
<circle cx="597.3" cy="579.4" r="3.7" fill="#fff" stroke="#222" stroke-width="1.2"/>
<circle cx="603.9" cy="591.7" r="3.8" fill="#fff" stroke="#222" stroke-width="1.2"/>
<circle cx="612.8" cy="603.9" r="3.9" fill="#fff" stroke="#222" stroke-width="1.2"/>
<circle cx="622.3" cy="617.3" r="3.8" fill="#fff" stroke="#222" stroke-width="1.2"/>
<circle cx="628.7" cy="631.4" r="3.7" fill="#fff" stroke="#222" stroke-width="1.2"/>
<circle cx="635.4" cy="643.9" r="3.8" fill="#fff" stroke="#222" stroke-width="1.2"/>
<circle cx="643.8" cy="655.7" r="4.2" fill="#fff" stroke="#222" stroke-width="1.2"/>
<circle cx="649.2" cy="666.7" r="4.4" fill="#fff" stroke="#222" stroke-width="1.2"/>
<circle cx="656.0" cy="678.9" r="4.2" fill="#fff" stroke="#222" stroke-width="1.2"/>
<circle cx="663.7" cy="691.1" r="4.2" fill="#fff" stroke="#222" stroke-width="1.2"/>
<circle cx="669.3" cy="702.3" r="4.2" fill="#fff" stroke="#222" stroke-width="1.2"/>
<circle cx="675.8" cy="714.4" r="4.0" fill="#fff" stroke="#222" stroke-width="1.2"/>
<circle cx="681.9" cy="727.5" r="3.7" fill="#fff" stroke="#222" stroke-width="1.2"/>
<line x1="559.6" y1="535.2" x2="576.2" y2="545.1" stroke="#222" stroke-width="1.3"/>
<path d="M576.2,545.1 L564.0,544.1 L570.4,541.6Z" fill="#222"/>
<line x1="591.8" y1="542.6" x2="574.9" y2="532.3" stroke="#222" stroke-width="1.3"/>
<path d="M574.9,532.3 L587.1,533.4 L580.7,535.8Z" fill="#222"/>
<path d="M650.5,553.5 L650.5,520.4 L700.7,520.4 C702.25,520.65 707.38,521.33 710.00,521.90 C712.62,522.47 713.80,522.80 716.40,523.80 C719.00,524.80 722.42,526.15 725.60,527.90 C728.78,529.65 732.27,531.85 735.50,534.30 C738.73,536.75 742.35,540.17 745.00,542.60 C747.65,545.03 749.75,547.20 751.40,548.90 C753.05,550.60 753.03,550.20 754.90,552.80 C756.77,555.40 760.33,560.42 762.60,564.50 C764.87,568.58 767.02,573.75 768.50,577.30 C769.98,580.85 771.00,583.53 771.50,585.80 C772.00,588.07 772.00,589.35 771.50,590.90 C771.00,592.45 770.20,594.05 768.50,595.10 C766.80,596.15 763.85,597.20 761.30,597.20 C758.75,597.20 755.53,596.15 753.20,595.10 C750.87,594.05 749.42,592.73 747.30,590.90 C745.18,589.07 743.05,586.52 740.50,584.10 C737.95,581.68 734.83,578.73 732.00,576.40 C729.17,574.07 726.33,571.93 723.50,570.10 C720.67,568.27 719.18,567.65 715.00,565.40 C710.82,563.15 703.70,558.58 698.40,556.60 C693.10,554.62 685.73,554.02 683.20,553.50 Z" fill="#fff" stroke="#222" stroke-width="1.85" stroke-linejoin="round"/>
<path d="M821.5,552.8 L755.5,552.8 C754.88,552.00 753.45,549.83 751.80,548.00 C750.15,546.17 748.20,544.20 745.60,541.80 C743.00,539.40 739.43,536.03 736.20,533.60 C732.97,531.17 727.87,528.27 726.20,527.20 Q726.4,521.9 730.5,521.9 L821.5,521.9 Z" fill="none" stroke="#222" stroke-width="1.85" stroke-linejoin="round"/>
<circle cx="711.2" cy="530.2" r="3.9" fill="#222"/>
<circle cx="745.4" cy="554.9" r="4.8" fill="#222"/>
<circle cx="752.4" cy="566.1" r="4.6" fill="#222"/>
<circle cx="757.2" cy="576.6" r="4.0" fill="#222"/>
<circle cx="761.3" cy="586.2" r="3.4" fill="#222"/>
<line x1="723.4" y1="533.3" x2="739.9" y2="543.2" stroke="#222" stroke-width="1.3"/>
<path d="M739.9,543.2 L727.7,542.2 L734.1,539.7Z" fill="#222"/>
<line x1="755.5" y1="540.0" x2="739.0" y2="530.5" stroke="#222" stroke-width="1.3"/>
<path d="M739.0,530.5 L751.2,531.3 L744.9,533.9Z" fill="#222"/>
<path d="M778.60,649.10 C779.97,649.10 781.47,649.52 782.80,650.70 C784.13,651.88 785.32,652.38 786.60,656.20 C787.88,660.02 789.55,667.73 790.50,673.60 C791.45,679.47 792.00,685.45 792.30,691.40 C792.60,697.35 792.60,703.93 792.30,709.30 C792.00,714.67 791.23,720.03 790.50,723.60 C789.77,727.17 788.90,728.97 787.90,730.70 C786.90,732.43 785.75,733.25 784.50,734.00 C783.25,734.75 781.73,735.20 780.40,735.20 C779.07,735.20 777.63,734.75 776.50,734.00 C775.37,733.25 774.62,732.43 773.60,730.70 C772.58,728.97 771.35,727.17 770.40,723.60 C769.45,720.03 768.50,714.67 767.90,709.30 C767.30,703.93 766.90,697.35 766.80,691.40 C766.70,685.45 766.57,679.47 767.30,673.60 C768.03,667.73 769.98,660.02 771.20,656.20 C772.42,652.38 773.37,651.88 774.60,650.70 C775.83,649.52 777.23,649.10 778.60,649.10Z" fill="#fff" stroke="#222" stroke-width="1.85" />
<circle cx="779.8" cy="709.3" r="3.5" fill="#fff" stroke="#222" stroke-width="1.2"/>
<circle cx="780.7" cy="724.8" r="4.4" fill="#fff" stroke="#222" stroke-width="1.2"/>
<text x="210.0" y="511.3" font-family="'Liberation Sans', sans-serif" font-size="19.5"  text-anchor="start" fill="#2a2a2a" >a</text>
<text x="370.0" y="511.5" font-family="'Liberation Sans', sans-serif" font-size="19.5"  text-anchor="start" fill="#2a2a2a" >b</text>
<text x="540.2" y="511.5" font-family="'Liberation Sans', sans-serif" font-size="19.5"  text-anchor="start" fill="#2a2a2a" >c</text>
<text x="706.4" y="511.5" font-family="'Liberation Sans', sans-serif" font-size="19.5"  text-anchor="start" fill="#2a2a2a" >d</text>
<text x="209.8" y="625.5" font-family="'Liberation Sans', sans-serif" font-size="20.1"  text-anchor="start" fill="#2a2a2a" textLength="126.9" lengthAdjust="spacingAndGlyphs" >majhna togost</text>
<text x="209.8" y="686.8" font-family="'Liberation Sans', sans-serif" font-size="20.1"  text-anchor="start" fill="#2a2a2a" textLength="126.9" lengthAdjust="spacingAndGlyphs" >srednja togost</text>
<text x="209.8" y="756.2" font-family="'Liberation Sans', sans-serif" font-size="20.1"  text-anchor="start" fill="#2a2a2a" textLength="111.6" lengthAdjust="spacingAndGlyphs" >velika togost</text>
</svg></body></html>
